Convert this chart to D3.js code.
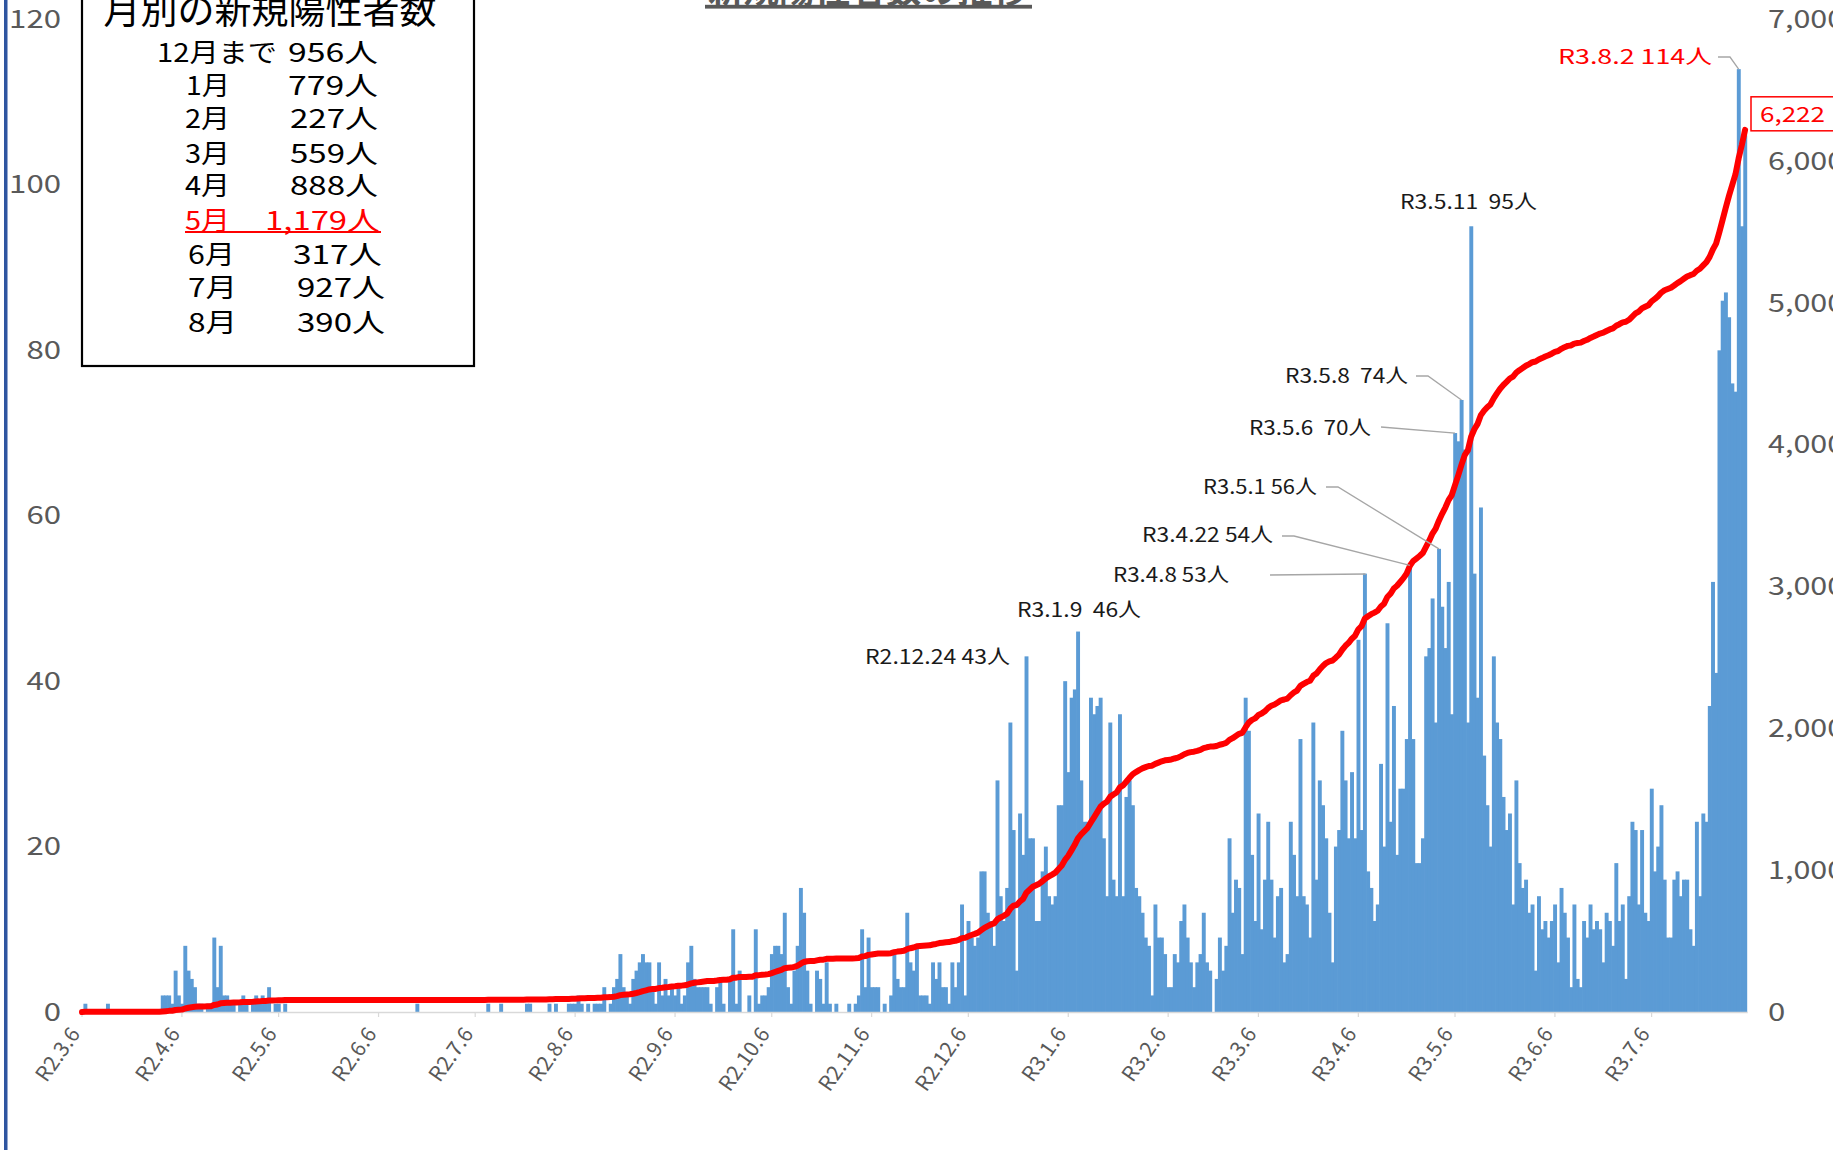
<!DOCTYPE html>
<html><head><meta charset="utf-8">
<script src="https://cdn.jsdelivr.net/npm/d3@7"></script>
<style>
html,body{margin:0;padding:0;background:#fff;overflow:hidden;}
svg{display:block;font-family:"Noto Sans CJK JP","Noto Sans",sans-serif;}
</style></head><body>
<svg id="chart" width="1833" height="1150"></svg>
<script>
// ---------------- DATA ----------------
// daily new positive cases, one array per month (first array starts on 2020-03-06)
const mar2020 = [0,1,0,0,0,0,0,0,1,0,0,0,0,0,0,0,0,0,0,0,0,0,0,0,0,2];
const apr2020 = [2,2,1,5,2,1,8,5,4,3,1,1,0,1,1,9,3,8,2,2,1,1,0,1,2,1,0,1,2,1];
const may2020 = [2,1,3,0,1,1,0,1,0,0,0,0,0,0,0,0,0,0,0,0,0,0,0,0,0,0,0,0,0,0,0];
const jun2020 = [0,0,0,0,0,0,0,0,0,0,0,0,0,0,0,0,0,1,0,0,0,0,0,0,0,0,0,0,0,0];
const jul2020 = [0,0,0,0,0,0,0,0,0,1,0,0,0,1,0,0,0,0,0,0,0,1,1,0,0,0,0,0,1,0,1];
const aug2020 = [0,0,0,1,1,1,2,1,0,1,0,1,1,1,3,0,1,3,4,7,3,2,1,4,5,6,7,6,6,3,1];
const sep2020 = [6,2,4,2,3,2,3,1,2,6,8,4,3,3,3,3,1,0,3,4,1,0,4,10,1,5,0,0,2,0];
const oct2020 = [10,1,2,2,3,7,8,8,7,12,3,1,5,8,15,12,5,1,0,5,4,1,6,1,0,1,0,0,0,1,0];
const nov2020 = [1,2,10,3,9,3,3,3,0,1,0,2,7,4,3,3,12,6,5,8,2,2,2,1,6,4,6,3,3,1];
const dec2020 = [6,3,6,13,2,11,9,8,9,17,17,12,11,8,28,14,11,15,35,22,5,24,19,43,21,21,11,11,17,20,14];
const jan2021 = [13,14,25,25,40,29,38,39,46,28,23,23,38,36,37,38,21,14,35,16,14,36,14,26,28,25,15,14,12,9,8];
const feb2021 = [2,13,9,9,7,3,3,7,6,11,13,9,6,3,6,7,12,6,5,0,4,9,5,8,21,12,16,15];
const mar2021 = [7,38,34,19,11,24,10,16,23,16,9,14,15,6,7,23,19,14,33,14,13,9,35,16,28,25,21,12,6,20,22];
const apr2021 = [34,28,21,29,21,45,22,53,17,15,11,13,30,20,47,23,37,19,27,27,33,54,33,18,18,21,43,44,50,35];
const may2021 = [56,49,44,52,36,70,69,74,68,35,95,53,38,61,31,25,20,43,35,33,26,22,24,13,28,18,15,16,12,13,5];
const jun2021 = [14,10,11,9,11,13,6,15,12,9,3,13,4,3,11,9,13,10,11,10,6,12,11,8,18,11,13,4,14,23];
const jul2021 = [22,13,22,12,11,27,17,20,25,16,9,9,16,17,14,16,16,10,8,23,14,24,23,37,52,41,80,86,87,84,76];
const aug2021 = [75,114,95,106];

const monthStarts = ["2020-03-06","2020-04-01","2020-05-01","2020-06-01","2020-07-01","2020-08-01",
  "2020-09-01","2020-10-01","2020-11-01","2020-12-01","2021-01-01","2021-02-01","2021-03-01",
  "2021-04-01","2021-05-01","2021-06-01","2021-07-01","2021-08-01"];
const monthlySeries = [mar2020,apr2020,may2020,jun2020,jul2020,aug2020,sep2020,oct2020,nov2020,
  dec2020,jan2021,feb2021,mar2021,apr2021,may2021,jun2021,jul2021,aug2021];

const tickDates = ["2020-03-06","2020-04-06","2020-05-06","2020-06-06","2020-07-06","2020-08-06",
  "2020-09-06","2020-10-06","2020-11-06","2020-12-06","2021-01-06","2021-02-06","2021-03-06",
  "2021-04-06","2021-05-06","2021-06-06","2021-07-06"];
const tickLabels = ["R2.3.6","R2.4.6","R2.5.6","R2.6.6","R2.7.6","R2.8.6","R2.9.6","R2.10.6",
  "R2.11.6","R2.12.6","R3.1.6","R3.2.6","R3.3.6","R3.4.6","R3.5.6","R3.6.6","R3.7.6"];
const leftTicks = [0,20,40,60,80,100,120];
const rightTicks = [0,1000,2000,3000,4000,5000,6000,7000];

const chartTitle = "新規陽性者数の推移";
const boxTitle = "月別の新規陽性者数";
const boxMonths = ["12月まで","1月","2月","3月","4月","5月","6月","7月","8月"];
const boxCounts = ["956人","779人","227人","559人","888人","1,179人","317人","927人","390人"];
const highlightRow = 5;

const annotations = [
  {date:"2020-12-24", label:"R2.12.24 43人"},
  {date:"2021-01-09", label:"R3.1.9  46人"},
  {date:"2021-04-08", label:"R3.4.8 53人"},
  {date:"2021-04-22", label:"R3.4.22 54人"},
  {date:"2021-05-01", label:"R3.5.1 56人"},
  {date:"2021-05-06", label:"R3.5.6  70人"},
  {date:"2021-05-08", label:"R3.5.8  74人"},
  {date:"2021-05-11", label:"R3.5.11  95人"},
  {date:"2021-08-02", label:"R3.8.2 114人"}
];
const totalLabel = "6,222";

// ---------------- LAYOUT ----------------
const W = 1833, H = 1150;
const plotLeft = 80.4, plotRight = 1746.7, yBase = 1012, yTopPx = 19.5;
const C = {bar:"#5b9bd5", line:"#ff0000", axis:"#d9d9d9", tick:"#595959", text:"#1a1a1a", leader:"#a6a6a6"};

const parse = d3.timeParse("%Y-%m-%d");
const fmt = d3.timeFormat("%Y-%m-%d");
const days = [];
monthStarts.forEach((s, mi) => {
  const d0 = parse(s);
  monthlySeries[mi].forEach((v, i) => days.push({key: fmt(d3.timeDay.offset(d0, i)), value: v}));
});
const cum = d3.cumsum(days, d => d.value);
days.forEach((d, i) => d.cum = cum[i]);

const x = d3.scaleBand().domain(days.map(d => d.key)).range([plotLeft, plotRight]).padding(0);
const yL = d3.scaleLinear().domain([0,120]).range([yBase, yTopPx]);
const yR = d3.scaleLinear().domain([0,7000]).range([yBase, yTopPx]);
const cx = k => x(k) + x.bandwidth()/2;
const byKey = new Map(days.map(d => [d.key, d]));

const svg = d3.select("#chart");
svg.append("rect").attr("width", W).attr("height", H).attr("fill", "#fff");

// left frame stripe
svg.append("rect").attr("x", 4).attr("y", 0).attr("width", 3.5).attr("height", H).attr("fill", "#2f55a0");

// bars
svg.append("g").selectAll("rect").data(days.filter(d => d.value > 0)).join("rect")
  .attr("x", d => x(d.key) - 0.2).attr("width", x.bandwidth() + 0.7)
  .attr("y", d => yL(d.value)).attr("height", d => yBase - yL(d.value))
  .attr("fill", C.bar);

// x axis
const gx = svg.append("g").attr("transform", `translate(0,${yBase})`)
  .call(d3.axisBottom(x).tickValues(tickDates).tickSize(5).tickSizeOuter(0)
    .tickFormat((d, i) => tickLabels[i]));
gx.select(".domain").attr("stroke", C.axis).attr("stroke-width", 1.5)
  .attr("d", `M${plotLeft},0.5H${plotRight + 1}`);
gx.selectAll(".tick line").attr("stroke", C.axis).attr("stroke-width", 1.2);
gx.selectAll(".tick text").attr("fill", C.tick).attr("font-size", 21)
  .attr("font-family", "Noto Sans CJK JP").attr("text-anchor", "end")
  .attr("y", 0).attr("dy", 0).attr("transform", "translate(-1,22) rotate(-55)");

// left axis
const gl = svg.append("g").attr("transform", "translate(61,0)")
  .call(d3.axisLeft(yL).tickValues(leftTicks).tickSize(0).tickPadding(0));
gl.select(".domain").remove();
gl.selectAll(".tick text").attr("fill", C.tick).attr("font-size", 25)
  .attr("font-family", "Noto Sans CJK JP")
  .attr("textLength", d => String(d).length * 17.3).attr("lengthAdjust", "spacingAndGlyphs");

// right axis
const fmtR = d3.format(",");
const gr = svg.append("g").attr("transform", "translate(1768,0)")
  .call(d3.axisRight(yR).tickValues(rightTicks).tickSize(0).tickPadding(0).tickFormat(fmtR));
gr.select(".domain").remove();
gr.selectAll(".tick text").attr("fill", C.tick).attr("font-size", 25)
  .attr("font-family", "Noto Sans CJK JP")
  .attr("textLength", d => { const s = fmtR(d); return s.replace(/,/g,"").length * 17.3 + (s.includes(",") ? 7 : 0); })
  .attr("lengthAdjust", "spacingAndGlyphs");

// cumulative line
svg.append("path").datum(days)
  .attr("d", d3.line().x(d => cx(d.key)).y(d => yR(d.cum)))
  .attr("fill", "none").attr("stroke", C.line).attr("stroke-width", 6)
  .attr("stroke-linejoin", "round").attr("stroke-linecap", "round");

// total box at line end
const last = days[days.length - 1];
const boxTop = yR(last.cum) - 33;
svg.append("rect").attr("x", 1751).attr("y", boxTop).attr("width", 100).attr("height", 34)
  .attr("fill", "#fff").attr("stroke", C.line).attr("stroke-width", 1.5);
svg.append("text").attr("x", 1760).attr("y", boxTop + 25).text(totalLabel)
  .attr("fill", C.line).attr("font-size", 21).attr("textLength", 65).attr("lengthAdjust", "spacingAndGlyphs");

// annotations (placement per label)
const annLayout = {
  "R2.12.24 43人": {x1: 1010, w: 145, by: 664},
  "R3.1.9  46人":  {x1: 1141, w: 124, by: 617},
  "R3.4.8 53人":   {x1: 1229, w: 116, by: 582, leader: [[1270,575],[1365,574]]},
  "R3.4.22 54人":  {x1: 1273, w: 131, by: 542, leader: [[1282,536],[1294,536]]},
  "R3.5.1 56人":   {x1: 1317, w: 114, by: 494, leader: [[1326,487],[1338,487]]},
  "R3.5.6  70人":  {x1: 1371, w: 122, by: 435, leader: [[1381,427]]},
  "R3.5.8  74人":  {x1: 1408, w: 123, by: 383, leader: [[1416,376],[1428,376]]},
  "R3.5.11  95人": {x1: 1537, w: 137, by: 209},
  "R3.8.2 114人":  {x1: 1712, w: 154, by: 64, red: true, leader: [[1718,57],[1730,57]]}
};
const gA = svg.append("g");
annotations.forEach(a => {
  const L = annLayout[a.label];
  const d = byKey.get(a.date);
  if (L.leader) {
    const pts = L.leader.concat([[cx(a.date), yL(d.value)]]);
    gA.append("path").attr("d", d3.line()(pts)).attr("fill", "none")
      .attr("stroke", C.leader).attr("stroke-width", 1.3);
  }
  gA.append("text").attr("x", L.x1 - L.w).attr("y", L.by).text(a.label)
    .attr("font-size", 20).attr("fill", L.red ? C.line : C.text)
    .attr("textLength", L.w).attr("lengthAdjust", "spacingAndGlyphs")
    .style("white-space", "pre");
});

// monthly summary box
svg.append("rect").attr("x", 82).attr("y", -10).attr("width", 392).attr("height", 376)
  .attr("fill", "#fff").attr("stroke", "#000").attr("stroke-width", 2.2);
svg.append("text").attr("x", 270).attr("y", 24).attr("text-anchor", "middle")
  .attr("font-size", 37).attr("fill", "#000").text(boxTitle);
const rowBase = [61.7, 95, 128.3, 162.7, 195, 230, 264, 297.3, 331.7];
const monX = [[157,277],[186,230],[185,230],[185,230],[185,230],[185,230],[188,235],[188,237],[188,237]];
const cntX = [[288,378],[288,378],[290,378],[290,378],[290,378],[265,380],[293,382],[297,385],[297,385]];
boxMonths.forEach((m, i) => {
  const col = i === highlightRow ? C.line : "#000";
  svg.append("text").attr("x", monX[i][0]).attr("y", rowBase[i]).text(m)
    .attr("font-size", 26).attr("fill", col)
    .attr("textLength", monX[i][1] - monX[i][0]).attr("lengthAdjust", "spacingAndGlyphs");
  svg.append("text").attr("x", cntX[i][0]).attr("y", rowBase[i]).text(boxCounts[i])
    .attr("font-size", 26).attr("fill", col)
    .attr("textLength", cntX[i][1] - cntX[i][0]).attr("lengthAdjust", "spacingAndGlyphs");
  if (i === highlightRow) {
    svg.append("line").attr("x1", 185).attr("x2", 381).attr("y1", rowBase[i] + 2).attr("y2", rowBase[i] + 2)
      .attr("stroke", C.line).attr("stroke-width", 1.8);
  }
});

// chart title (cut off at the top edge, underlined)
svg.append("text").attr("x", 868).attr("y", 3).attr("text-anchor", "middle")
  .attr("font-size", 36).attr("font-weight", "bold").attr("fill", "#595959")
  .attr("textLength", 320).attr("lengthAdjust", "spacingAndGlyphs").text(chartTitle);
svg.append("rect").attr("x", 705).attr("y", 4.8).attr("width", 327).attr("height", 3.8).attr("fill", "#595959");
</script>
</body></html>
